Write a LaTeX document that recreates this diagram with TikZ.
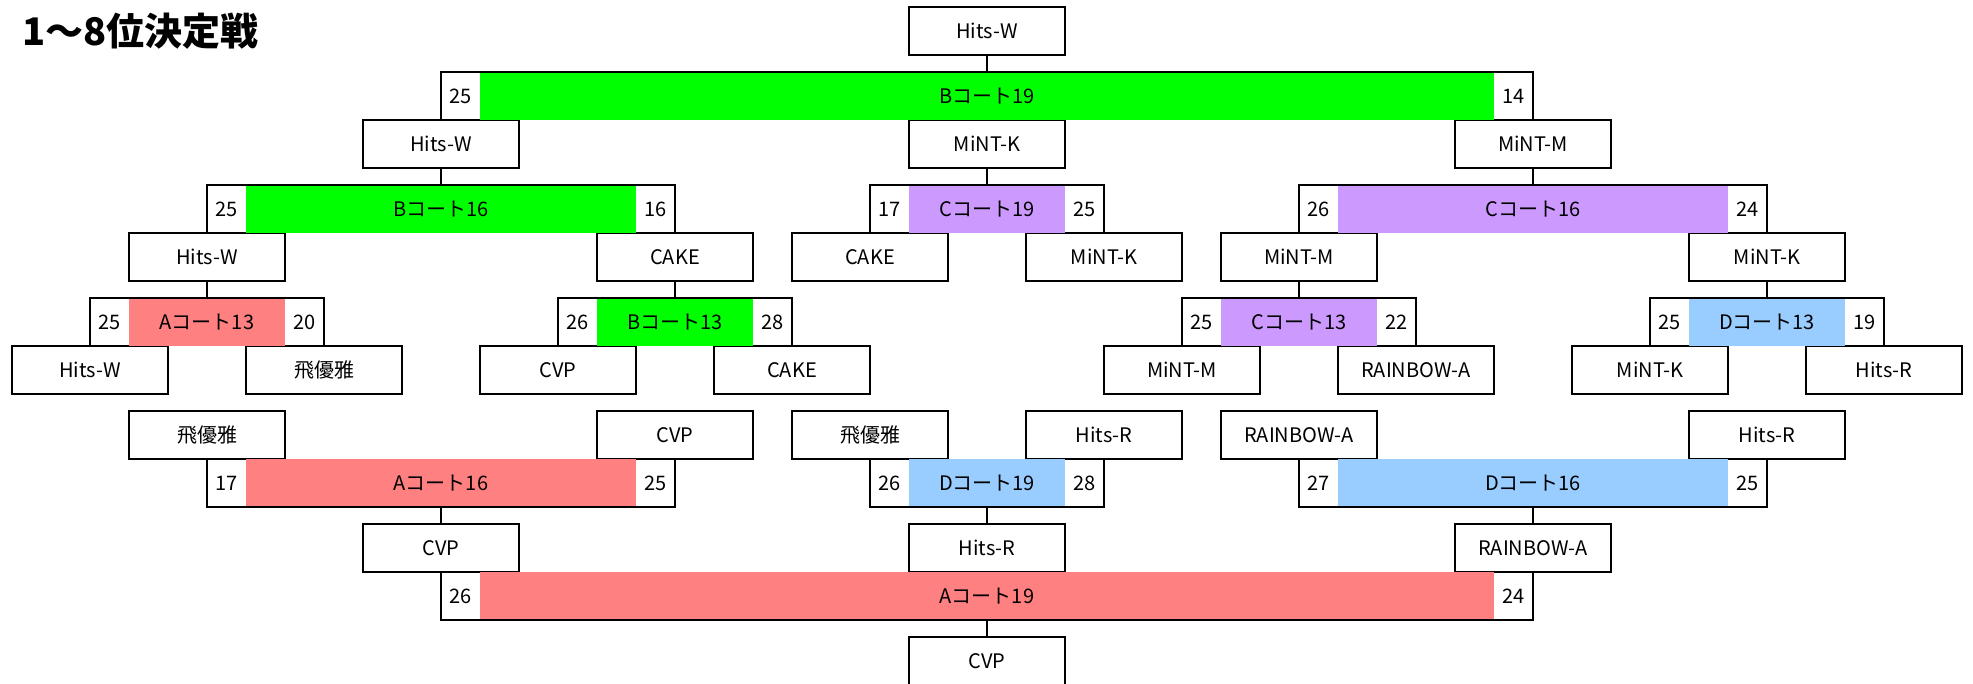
\documentclass[tikz,border=0pt]{standalone}
\usepackage{fontspec}
\setmainfont{Noto Sans CJK JP}
\definecolor{cgreen}{HTML}{00FF00}
\definecolor{cpink}{HTML}{FF8080}
\definecolor{cpurple}{HTML}{CC99FF}
\definecolor{cblue}{HTML}{99CCFF}
\tikzset{
 team/.style={draw, line width=1pt, fill=white, minimum width=78pt, minimum height=24pt, inner sep=0pt, outer sep=0pt, font=\fontsize{10}{12}\selectfont},
 barfill/.style={inner sep=0pt, outer sep=0pt, minimum height=24pt, font=\fontsize{10}{12}\selectfont},
 score/.style={inner sep=0pt, font=\fontsize{10}{12}\selectfont},
 link/.style={line width=1pt, line join=miter},
}
\newcommand{\courtbar}[8]{%
 \node[barfill, fill=#5, minimum width={(#3-#2-2)*19.5pt}] (#1) at ({(#2+#3)/2}, #4) {#6};
 \node[score] (#1l) at ({#2+0.5}, #4) {#7};
 \node[score] (#1r) at ({#3-0.5}, #4) {#8};
}
\begin{document}
\begin{tikzpicture}[x=19.5pt, y=-0.5pt]
\useasboundingbox ({-12/39},0) rectangle ({1961/39},684);
\node[anchor=west, inner sep=0pt, font=\bfseries\fontsize{19}{22}\selectfont] (title) at ({10/39}, 31) {1〜8位決定戦};
% teams
\node[team] (t0) at (25,31) {Hits-W};
\node[team] (a1) at (11,144) {Hits-W};
\node[team] (a2) at (25,144) {MiNT-K};
\node[team] (a3) at (39,144) {MiNT-M};
\node[team] (b1) at (5,257) {Hits-W};
\node[team] (b2) at (17,257) {CAKE};
\node[team] (b3) at (22,257) {CAKE};
\node[team] (b4) at (28,257) {MiNT-K};
\node[team] (b5) at (33,257) {MiNT-M};
\node[team] (b6) at (45,257) {MiNT-K};
\node[team] (c1) at (2,370) {Hits-W};
\node[team] (c2) at (8,370) {飛優雅};
\node[team] (c3) at (14,370) {CVP};
\node[team] (c4) at (20,370) {CAKE};
\node[team] (c5) at (30,370) {MiNT-M};
\node[team] (c6) at (36,370) {RAINBOW-A};
\node[team] (c7) at (42,370) {MiNT-K};
\node[team] (c8) at (48,370) {Hits-R};
\node[team] (d1) at (5,435) {飛優雅};
\node[team] (d2) at (17,435) {CVP};
\node[team] (d3) at (22,435) {飛優雅};
\node[team] (d4) at (28,435) {Hits-R};
\node[team] (d5) at (33,435) {RAINBOW-A};
\node[team] (d6) at (45,435) {Hits-R};
\node[team] (e1) at (11,548) {CVP};
\node[team] (e2) at (25,548) {Hits-R};
\node[team] (e3) at (39,548) {RAINBOW-A};
\node[team] (f1) at (25,661) {CVP};
% bars
\courtbar{mF}{11}{39}{96}{cgreen}{Bコート19}{25}{14}
\courtbar{mSa}{5}{17}{209}{cgreen}{Bコート16}{25}{16}
\courtbar{mT}{22}{28}{209}{cpurple}{Cコート19}{17}{25}
\courtbar{mSb}{33}{45}{209}{cpurple}{Cコート16}{26}{24}
\courtbar{mQa}{2}{8}{322}{cpink}{Aコート13}{25}{20}
\courtbar{mQb}{14}{20}{322}{cgreen}{Bコート13}{26}{28}
\courtbar{mQc}{30}{36}{322}{cpurple}{Cコート13}{25}{22}
\courtbar{mQd}{42}{48}{322}{cblue}{Dコート13}{25}{19}
\courtbar{mLa}{5}{17}{483}{cpink}{Aコート16}{17}{25}
\courtbar{mLb}{22}{28}{483}{cblue}{Dコート19}{26}{28}
\courtbar{mLc}{33}{45}{483}{cblue}{Dコート16}{27}{25}
\courtbar{mLd}{11}{39}{596}{cpink}{Aコート19}{26}{24}
% upper brackets
\foreach \m/\l/\r/\w in {mF/a1/a3/t0, mSa/b1/b2/a1, mT/b3/b4/a2, mSb/b5/b6/a3, mQa/c1/c2/b1, mQb/c3/c4/b2, mQc/c5/c6/b5, mQd/c7/c8/b6}{
 \draw[link] (\l.north) -- (\l.north |- \m.north) -- (\r.north |- \m.north) -- (\r.north);
 \draw[link] (\w.south) -- (\w.south |- \m.north);
}
% lower brackets
\foreach \m/\l/\r/\w in {mLa/d1/d2/e1, mLb/d3/d4/e2, mLc/d5/d6/e3, mLd/e1/e3/f1}{
 \draw[link] (\l.south) -- (\l.south |- \m.south) -- (\r.south |- \m.south) -- (\r.south);
 \draw[link] (\w.north) -- (\w.north |- \m.south);
}
\end{tikzpicture}
\end{document}
